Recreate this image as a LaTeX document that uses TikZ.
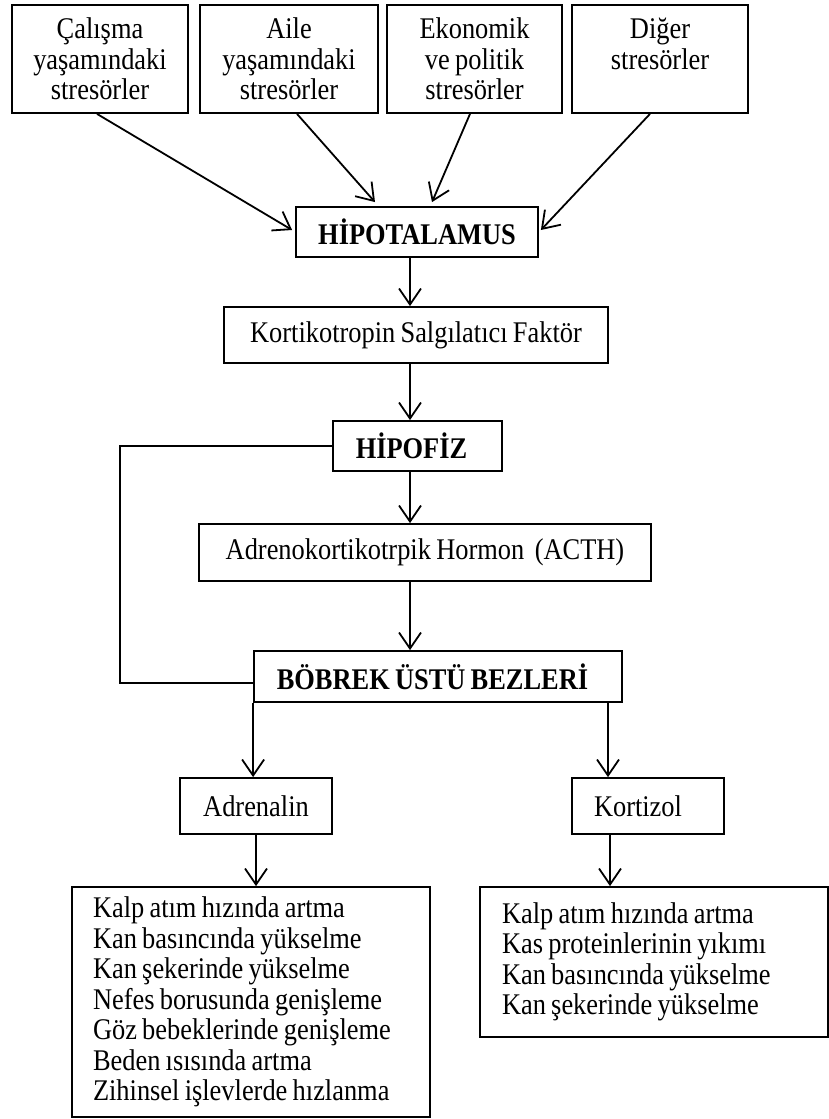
\documentclass[tikz,border=0pt]{standalone}
\usepackage{fontspec}
\setmainfont{Liberation Serif}[FakeStretch=0.88, WordSpace=0.8]
\usetikzlibrary{arrows.meta}
\begin{document}
\begin{tikzpicture}[x=1pt,y=-1pt,
  txt/.style={font=\fontsize{30}{30.5}\selectfont},
  box/.style={txt, draw, line width=1.8pt, inner sep=0pt, align=center},
  lst/.style={txt, draw, line width=1.8pt, inner ysep=0pt, align=flush left},
  arr/.style={line width=1.8pt, -{Straight Barb[length=16pt,width=22pt]}},
  conn/.style={line width=1.8pt}]
\fill[white] (0,0) rectangle (829,1119);
\useasboundingbox (0,0) rectangle (829,1119);

% stressor boxes
\node[box, minimum width=176pt, minimum height=108pt] (s1) at (100,59) {Çalışma\\yaşamındaki\\stresörler};
\node[box, minimum width=178pt, minimum height=108pt] (s2) at (289,59) {Aile\\yaşamındaki\\stresörler};
\node[box, minimum width=175pt, minimum height=108pt] (s3) at (474.5,59) {Ekonomik\\ve politik\\stresörler};
\node[box, minimum width=176pt, minimum height=108pt] (s4) at (660,59) {Diğer\\stresörler\\\mbox{}};

% main chain
\node[box, minimum width=242pt, minimum height=50pt] (hipo) at (417,232) {\bfseries HİPOTALAMUS};
\node[box, minimum width=384pt, minimum height=56pt] (krf) at (416,335) {Kortikotropin Salgılatıcı Faktör};
\node[box, minimum width=169pt, minimum height=50pt] (hipofiz) at (417.5,446) {\bfseries HİPOFİZ\hspace*{12pt}};
\node[box, minimum width=452pt, minimum height=57pt] (acth) at (425,552.5) {Adrenokortikotrpik Hormon~ (ACTH)};
\node[box, minimum width=368pt, minimum height=51pt] (bobrek) at (438,676.5) {\bfseries BÖBREK ÜSTÜ BEZLERİ\hspace*{11pt}};

% hormones
\node[box, minimum width=152pt, minimum height=56pt] (adren) at (256,806) {Adrenalin};
\node[box, minimum width=152pt, minimum height=56pt] (kort) at (648,806) {Kortizol\hspace*{20pt}};

% effect lists
\node[lst, text width=316pt, inner xsep=21pt, minimum height=230pt] (llist) at (251,1002) {Kalp atım hızında artma\\Kan basıncında yükselme\\Kan şekerinde yükselme\\Nefes borusunda genişleme\\Göz bebeklerinde genişleme\\Beden ısısında artma\\Zihinsel işlevlerde hızlanma};
\node[lst, text width=304pt, inner xsep=22pt, minimum height=150pt] (rlist) at (654,962) {Kalp atım hızında artma\\Kas proteinlerinin yıkımı\\Kan basıncında yükselme\\Kan şekerinde yükselme};

% connectors
\coordinate (ax) at (410,0);
\coordinate (fb) at (120,0);
\coordinate (rx) at (608,0);
\coordinate (kx) at (610,0);
\coordinate (bl) at ([yshift=-6.5pt]bobrek.west);

\draw[arr] ([xshift=-3pt]s1.south) -- ([xshift=-3pt,yshift=2pt]hipo.west);
\draw[arr] ([xshift=8pt]s2.south) -- ([xshift=-42pt,yshift=4pt]hipo.north);
\draw[arr] ([xshift=-4.5pt]s3.south) -- ([xshift=15pt,yshift=4pt]hipo.north);
\draw[arr] ([xshift=-10pt]s4.south) -- ([xshift=2pt,yshift=2pt]hipo.east);

\draw[arr] (ax |- hipo.south) -- (ax |- krf.north);
\draw[arr] (ax |- krf.south) -- (ax |- hipofiz.north);
\draw[arr] (ax |- hipofiz.south) -- (ax |- acth.north);
\draw[arr] (ax |- acth.south) -- (ax |- bobrek.north);

\draw[conn] (hipofiz.west) -| (fb |- bl) -- (bl);

\draw[arr] (bobrek.south west) -- (bobrek.south west |- adren.north);
\draw[arr] (rx |- bobrek.south) -- (rx |- kort.north);
\draw[arr] (adren.south) -- (adren.south |- llist.north);
\draw[arr] (kx |- kort.south) -- (kx |- rlist.north);
\end{tikzpicture}
\end{document}
